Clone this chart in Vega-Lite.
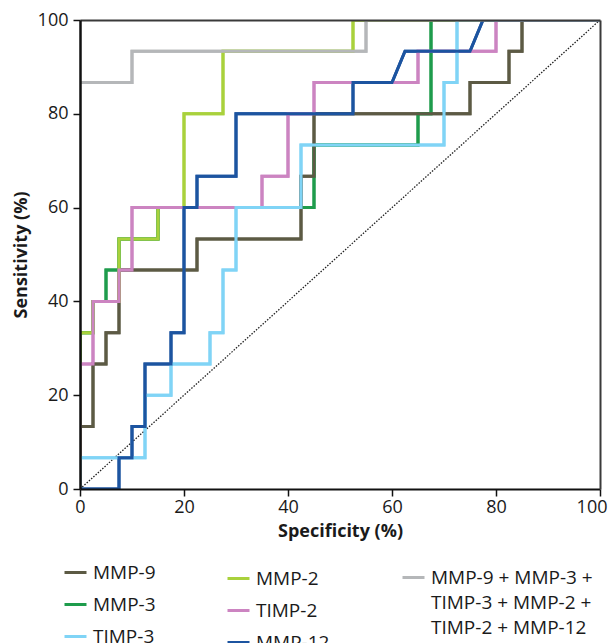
{
  "$schema": "https://vega.github.io/schema/vega-lite/v6.json",
  "width": 520,
  "height": 469,
  "autosize": {"type": "none"},
  "padding": {"left": 80, "top": 20, "right": 8, "bottom": 154},
  "background": "white",
  "config": {
    "view": {"stroke": null},
    "font": "Open Sans",
    "axis": {
      "grid": false,
      "domainColor": "#111111",
      "domainWidth": 2,
      "tickColor": "#111111",
      "tickWidth": 1.5,
      "tickSize": 7,
      "labelFont": "Open Sans",
      "labelFontSize": 18,
      "labelColor": "#1a1a1a",
      "titleFont": "Open Sans",
      "titleFontSize": 18,
      "titleFontWeight": "bold",
      "titleColor": "#1a1a1a"
    },
    "legend": {
      "labelFont": "Open Sans",
      "labelFontSize": 19,
      "labelColor": "#1a1a1a",
      "symbolType": "stroke",
      "symbolSize": 484,
      "symbolStrokeWidth": 3,
      "labelOffset": 5,
      "rowPadding": 9,
      "padding": 0,
      "labelLimit": 400
    }
  },
  "datasets": {
    "roc": [
      {"s": "MMP-9", "i": 0, "x": 0, "y": 0},
      {"s": "MMP-9", "i": 1, "x": 0, "y": 13.33},
      {"s": "MMP-9", "i": 2, "x": 2.5, "y": 13.33},
      {"s": "MMP-9", "i": 3, "x": 2.5, "y": 26.67},
      {"s": "MMP-9", "i": 4, "x": 5, "y": 26.67},
      {"s": "MMP-9", "i": 5, "x": 5, "y": 33.33},
      {"s": "MMP-9", "i": 6, "x": 7.5, "y": 33.33},
      {"s": "MMP-9", "i": 7, "x": 7.5, "y": 46.67},
      {"s": "MMP-9", "i": 8, "x": 22.5, "y": 46.67},
      {"s": "MMP-9", "i": 9, "x": 22.5, "y": 53.33},
      {"s": "MMP-9", "i": 10, "x": 42.5, "y": 53.33},
      {"s": "MMP-9", "i": 11, "x": 42.5, "y": 66.67},
      {"s": "MMP-9", "i": 12, "x": 45, "y": 66.67},
      {"s": "MMP-9", "i": 13, "x": 45, "y": 80},
      {"s": "MMP-9", "i": 14, "x": 75, "y": 80},
      {"s": "MMP-9", "i": 15, "x": 75, "y": 86.67},
      {"s": "MMP-9", "i": 16, "x": 82.5, "y": 86.67},
      {"s": "MMP-9", "i": 17, "x": 82.5, "y": 93.33},
      {"s": "MMP-9", "i": 18, "x": 85, "y": 93.33},
      {"s": "MMP-9", "i": 19, "x": 85, "y": 100},
      {"s": "MMP-9", "i": 20, "x": 100, "y": 100},

      {"s": "MMP-3", "i": 0, "x": 0, "y": 0},
      {"s": "MMP-3", "i": 1, "x": 0, "y": 33.33},
      {"s": "MMP-3", "i": 2, "x": 2.5, "y": 33.33},
      {"s": "MMP-3", "i": 3, "x": 2.5, "y": 40},
      {"s": "MMP-3", "i": 4, "x": 5, "y": 40},
      {"s": "MMP-3", "i": 5, "x": 5, "y": 46.67},
      {"s": "MMP-3", "i": 6, "x": 7.5, "y": 46.67},
      {"s": "MMP-3", "i": 7, "x": 7.5, "y": 53.33},
      {"s": "MMP-3", "i": 8, "x": 15, "y": 53.33},
      {"s": "MMP-3", "i": 9, "x": 15, "y": 60},
      {"s": "MMP-3", "i": 10, "x": 45, "y": 60},
      {"s": "MMP-3", "i": 11, "x": 45, "y": 73.33},
      {"s": "MMP-3", "i": 12, "x": 65, "y": 73.33},
      {"s": "MMP-3", "i": 13, "x": 65, "y": 80},
      {"s": "MMP-3", "i": 14, "x": 67.5, "y": 80},
      {"s": "MMP-3", "i": 15, "x": 67.5, "y": 100},
      {"s": "MMP-3", "i": 16, "x": 100, "y": 100},

      {"s": "TIMP-3", "i": 0, "x": 0, "y": 0},
      {"s": "TIMP-3", "i": 1, "x": 0, "y": 6.67},
      {"s": "TIMP-3", "i": 2, "x": 12.5, "y": 6.67},
      {"s": "TIMP-3", "i": 3, "x": 12.5, "y": 20},
      {"s": "TIMP-3", "i": 4, "x": 17.5, "y": 20},
      {"s": "TIMP-3", "i": 5, "x": 17.5, "y": 26.67},
      {"s": "TIMP-3", "i": 6, "x": 25, "y": 26.67},
      {"s": "TIMP-3", "i": 7, "x": 25, "y": 33.33},
      {"s": "TIMP-3", "i": 8, "x": 27.5, "y": 33.33},
      {"s": "TIMP-3", "i": 9, "x": 27.5, "y": 46.67},
      {"s": "TIMP-3", "i": 10, "x": 30, "y": 46.67},
      {"s": "TIMP-3", "i": 11, "x": 30, "y": 60},
      {"s": "TIMP-3", "i": 12, "x": 42.5, "y": 60},
      {"s": "TIMP-3", "i": 13, "x": 42.5, "y": 73.33},
      {"s": "TIMP-3", "i": 14, "x": 70, "y": 73.33},
      {"s": "TIMP-3", "i": 15, "x": 70, "y": 86.67},
      {"s": "TIMP-3", "i": 16, "x": 72.5, "y": 86.67},
      {"s": "TIMP-3", "i": 17, "x": 72.5, "y": 100},
      {"s": "TIMP-3", "i": 18, "x": 100, "y": 100},

      {"s": "MMP-2", "i": 0, "x": 0, "y": 0},
      {"s": "MMP-2", "i": 1, "x": 0, "y": 33.33},
      {"s": "MMP-2", "i": 2, "x": 2.5, "y": 33.33},
      {"s": "MMP-2", "i": 3, "x": 2.5, "y": 40},
      {"s": "MMP-2", "i": 4, "x": 7.5, "y": 40},
      {"s": "MMP-2", "i": 5, "x": 7.5, "y": 53.33},
      {"s": "MMP-2", "i": 6, "x": 15, "y": 53.33},
      {"s": "MMP-2", "i": 7, "x": 15, "y": 60},
      {"s": "MMP-2", "i": 8, "x": 20, "y": 60},
      {"s": "MMP-2", "i": 9, "x": 20, "y": 80},
      {"s": "MMP-2", "i": 10, "x": 27.5, "y": 80},
      {"s": "MMP-2", "i": 11, "x": 27.5, "y": 93.33},
      {"s": "MMP-2", "i": 12, "x": 52.5, "y": 93.33},
      {"s": "MMP-2", "i": 13, "x": 52.5, "y": 100},
      {"s": "MMP-2", "i": 14, "x": 100, "y": 100},

      {"s": "TIMP-2", "i": 0, "x": 0, "y": 0},
      {"s": "TIMP-2", "i": 1, "x": 0, "y": 26.67},
      {"s": "TIMP-2", "i": 2, "x": 2.5, "y": 26.67},
      {"s": "TIMP-2", "i": 3, "x": 2.5, "y": 40},
      {"s": "TIMP-2", "i": 4, "x": 7.5, "y": 40},
      {"s": "TIMP-2", "i": 5, "x": 7.5, "y": 46.67},
      {"s": "TIMP-2", "i": 6, "x": 10, "y": 46.67},
      {"s": "TIMP-2", "i": 7, "x": 10, "y": 60},
      {"s": "TIMP-2", "i": 8, "x": 35, "y": 60},
      {"s": "TIMP-2", "i": 9, "x": 35, "y": 66.67},
      {"s": "TIMP-2", "i": 10, "x": 40, "y": 66.67},
      {"s": "TIMP-2", "i": 11, "x": 40, "y": 80},
      {"s": "TIMP-2", "i": 12, "x": 45, "y": 80},
      {"s": "TIMP-2", "i": 13, "x": 45, "y": 86.67},
      {"s": "TIMP-2", "i": 14, "x": 65, "y": 86.67},
      {"s": "TIMP-2", "i": 15, "x": 65, "y": 93.33},
      {"s": "TIMP-2", "i": 16, "x": 80, "y": 93.33},
      {"s": "TIMP-2", "i": 17, "x": 80, "y": 100},
      {"s": "TIMP-2", "i": 18, "x": 100, "y": 100},

      {"s": "MMP-12", "i": 0, "x": 0, "y": 0},
      {"s": "MMP-12", "i": 1, "x": 7.5, "y": 0},
      {"s": "MMP-12", "i": 2, "x": 7.5, "y": 6.67},
      {"s": "MMP-12", "i": 3, "x": 10, "y": 6.67},
      {"s": "MMP-12", "i": 4, "x": 10, "y": 13.33},
      {"s": "MMP-12", "i": 5, "x": 12.5, "y": 13.33},
      {"s": "MMP-12", "i": 6, "x": 12.5, "y": 26.67},
      {"s": "MMP-12", "i": 7, "x": 17.5, "y": 26.67},
      {"s": "MMP-12", "i": 8, "x": 17.5, "y": 33.33},
      {"s": "MMP-12", "i": 9, "x": 20, "y": 33.33},
      {"s": "MMP-12", "i": 10, "x": 20, "y": 60},
      {"s": "MMP-12", "i": 11, "x": 22.5, "y": 60},
      {"s": "MMP-12", "i": 12, "x": 22.5, "y": 66.67},
      {"s": "MMP-12", "i": 13, "x": 30, "y": 66.67},
      {"s": "MMP-12", "i": 14, "x": 30, "y": 80},
      {"s": "MMP-12", "i": 15, "x": 52.5, "y": 80},
      {"s": "MMP-12", "i": 16, "x": 52.5, "y": 86.67},
      {"s": "MMP-12", "i": 17, "x": 60, "y": 86.67},
      {"s": "MMP-12", "i": 18, "x": 62.5, "y": 93.33},
      {"s": "MMP-12", "i": 19, "x": 75, "y": 93.33},
      {"s": "MMP-12", "i": 20, "x": 77.5, "y": 100},
      {"s": "MMP-12", "i": 21, "x": 100, "y": 100},

      {"s": "MMP-9 + MMP-3 + TIMP-3 + MMP-2 + TIMP-2 + MMP-12", "i": 0, "x": 0, "y": 86.67},
      {"s": "MMP-9 + MMP-3 + TIMP-3 + MMP-2 + TIMP-2 + MMP-12", "i": 1, "x": 10, "y": 86.67},
      {"s": "MMP-9 + MMP-3 + TIMP-3 + MMP-2 + TIMP-2 + MMP-12", "i": 2, "x": 10, "y": 93.33},
      {"s": "MMP-9 + MMP-3 + TIMP-3 + MMP-2 + TIMP-2 + MMP-12", "i": 3, "x": 55, "y": 93.33},
      {"s": "MMP-9 + MMP-3 + TIMP-3 + MMP-2 + TIMP-2 + MMP-12", "i": 4, "x": 55, "y": 100},
      {"s": "MMP-9 + MMP-3 + TIMP-3 + MMP-2 + TIMP-2 + MMP-12", "i": 5, "x": 100, "y": 100}
    ],
    "diag": [
      {"i": 0, "x": 0, "y": 0},
      {"i": 1, "x": 100, "y": 100}
    ]
  },
  "encoding": {
    "x": {"field": "x", "type": "quantitative", "scale": {"domain": [0, 100], "nice": false, "zero": false}, "axis": null},
    "y": {"field": "y", "type": "quantitative", "scale": {"domain": [0, 100], "nice": false, "zero": false}, "axis": null},
    "order": {"field": "i", "type": "quantitative"}
  },
  "layer": [
    {
      "data": {"name": "roc"},
      "transform": [{"filter": {"field": "s", "oneOf": ["MMP-9", "MMP-3", "TIMP-3"]}}],
      "mark": {"type": "line", "strokeWidth": 3, "strokeJoin": "miter", "clip": true},
      "encoding": {
        "color": {
          "field": "s", "type": "nominal",
          "scale": {"domain": ["MMP-9", "MMP-3", "TIMP-3"], "range": ["#5c5a44", "#1e9c4c", "#80d4f6"]},
          "legend": {"orient": "none", "legendX": -17, "legendY": 540, "direction": "vertical", "title": null}
        }
      }
    },
    {
      "data": {"name": "roc"},
      "transform": [{"filter": {"field": "s", "oneOf": ["MMP-2", "TIMP-2", "MMP-12"]}}],
      "mark": {"type": "line", "strokeWidth": 3, "strokeJoin": "miter", "clip": true},
      "encoding": {
        "color": {
          "field": "s", "type": "nominal",
          "scale": {"domain": ["MMP-2", "TIMP-2", "MMP-12"], "range": ["#a9d13c", "#cc84c1", "#1c54a0"]},
          "legend": {"orient": "none", "legendX": 146, "legendY": 546, "direction": "vertical", "title": null}
        }
      }
    },
    {
      "data": {"name": "roc"},
      "transform": [{"filter": {"field": "s", "equal": "MMP-9 + MMP-3 + TIMP-3 + MMP-2 + TIMP-2 + MMP-12"}}],
      "mark": {"type": "line", "strokeWidth": 3, "strokeJoin": "miter", "clip": true},
      "encoding": {
        "color": {
          "field": "s", "type": "nominal",
          "scale": {"domain": ["MMP-9 + MMP-3 + TIMP-3 + MMP-2 + TIMP-2 + MMP-12"], "range": ["#b5b7b9"]},
          "legend": {
            "orient": "none", "legendX": 321, "legendY": 545, "direction": "vertical", "title": null,
            "labelBaseline": "alphabetic",
            "labelExpr": "['MMP-9 + MMP-3 +', 'TIMP-3 + MMP-2 +', 'TIMP-2 + MMP-12']",
            "encode": {"labels": {"update": {"lineHeight": {"value": 25}, "dy": {"value": 6}}}}
          }
        }
      }
    },
    {
      "data": {"name": "diag"},
      "mark": {"type": "line", "color": "#222222", "strokeWidth": 1.3, "strokeDash": [1.5, 1.5], "clip": true},
      "encoding": {
        "x": {
          "field": "x", "type": "quantitative",
          "scale": {"domain": [0, 100], "nice": false, "zero": false},
          "axis": {
            "orient": "bottom", "zindex": 2, "values": [0, 20, 40, 60, 80, 100], "title": "Specificity (%)",
            "labelPadding": 2, "titlePadding": 6, "labelFlush": false,
            "labelAlign": {"condition": {"test": "datum.value === 100", "value": "right"}, "value": "center"},
            "labelOffset": {"condition": {"test": "datum.value === 100", "value": 7}, "value": 0}
          }
        },
        "y": {
          "field": "y", "type": "quantitative",
          "scale": {"domain": [0, 100], "nice": false, "zero": false},
          "axis": {"orient": "left", "zindex": 2, "domainWidth": 2.5, "values": [0, 20, 40, 60, 80, 100], "title": "Sensitivity (%)", "labelPadding": 5, "titlePadding": 7, "labelFlush": false}
        }
      }
    },
    {
      "data": {"name": "roc"},
      "transform": [{"filter": {"field": "s", "equal": "MMP-3"}}],
      "mark": {"type": "line", "color": "#1e9c4c", "strokeWidth": 3, "strokeJoin": "miter", "clip": true}
    },
    {
      "data": {"name": "roc"},
      "transform": [{"filter": {"field": "s", "equal": "MMP-9"}}],
      "mark": {"type": "line", "color": "#5c5a44", "strokeWidth": 3, "strokeJoin": "miter", "clip": true}
    },
    {
      "data": {"name": "roc"},
      "transform": [{"filter": {"field": "s", "equal": "MMP-2"}}],
      "mark": {"type": "line", "color": "#a9d13c", "strokeWidth": 3, "strokeJoin": "miter", "clip": true}
    },
    {
      "data": {"name": "roc"},
      "transform": [{"filter": {"field": "s", "equal": "TIMP-2"}}],
      "mark": {"type": "line", "color": "#cc84c1", "strokeWidth": 3, "strokeJoin": "miter", "clip": true}
    },
    {
      "data": {"name": "roc"},
      "transform": [{"filter": {"field": "s", "equal": "TIMP-3"}}],
      "mark": {"type": "line", "color": "#80d4f6", "strokeWidth": 3, "strokeJoin": "miter", "clip": true}
    },
    {
      "data": {"name": "roc"},
      "transform": [{"filter": {"field": "s", "equal": "MMP-12"}}],
      "mark": {"type": "line", "color": "#1c54a0", "strokeWidth": 3, "strokeJoin": "miter", "clip": true}
    },
    {
      "data": {"name": "roc"},
      "transform": [{"filter": {"field": "s", "equal": "MMP-9 + MMP-3 + TIMP-3 + MMP-2 + TIMP-2 + MMP-12"}}],
      "mark": {"type": "line", "color": "#b5b7b9", "strokeWidth": 3, "strokeJoin": "miter", "clip": true},
      "encoding": {
        "x": {
          "field": "x", "type": "quantitative",
          "scale": {"domain": [0, 100], "nice": false, "zero": false},
          "axis": {"orient": "top", "zindex": 2, "labels": false, "ticks": false, "title": null, "domainColor": "#3a3a3a"}
        },
        "y": {
          "field": "y", "type": "quantitative",
          "scale": {"domain": [0, 100], "nice": false, "zero": false},
          "axis": {"orient": "right", "zindex": 2, "labels": false, "ticks": false, "title": null, "domainColor": "#3a3a3a"}
        }
      }
    }
  ],
  "resolve": {"scale": {"color": "independent"}, "axis": {"x": "independent", "y": "independent"}}
}
